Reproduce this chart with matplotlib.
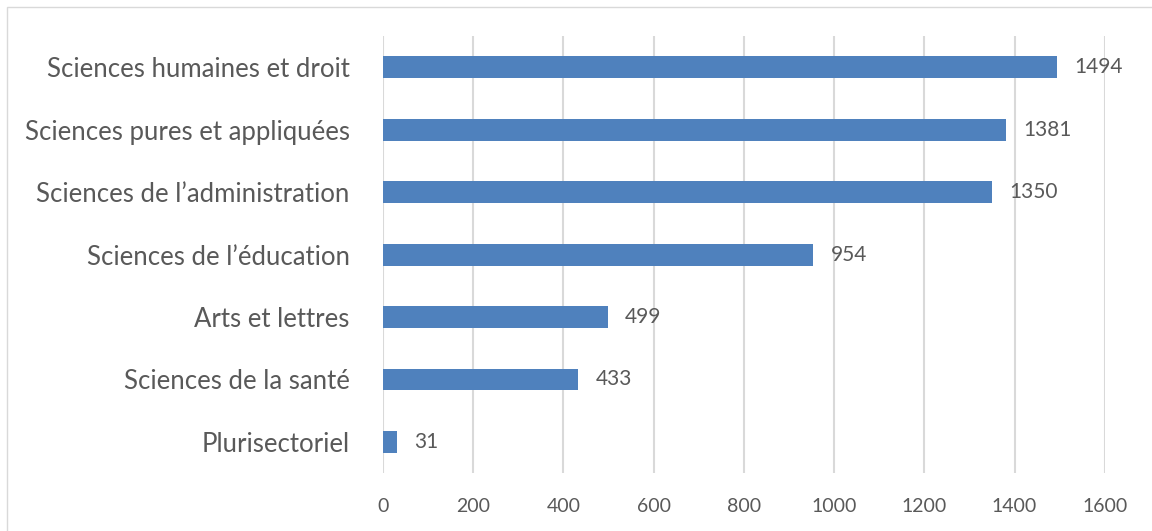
import matplotlib.pyplot as plt
from matplotlib.patches import Rectangle

categories = [
    "Plurisectoriel",
    "Sciences de la santé",
    "Arts et lettres",
    "Sciences de l’éducation",
    "Sciences de l’administration",
    "Sciences pures et appliquées",
    "Sciences humaines et droit",
]
values = [31, 433, 499, 954, 1350, 1381, 1494]
xticks = [0, 200, 400, 600, 800, 1000, 1200, 1400, 1600]

BAR_COLOR = "#4F81BD"
TEXT_COLOR = "#595959"
GRID_COLOR = "#D9D9D9"

plt.rcParams["font.family"] = ["Lato", "DejaVu Sans"]


def main():
    fig = plt.figure(figsize=(11.52, 5.31), dpi=100)
    ax = fig.add_axes([0.3325, 0.109, 0.6265, 0.823])

    # light border around the chart area (only left/top visible in the crop)
    fig.patches.append(Rectangle((7 / 1152, -0.1), 1.2, (531 - 7) / 531 + 0.1,
                                 transform=fig.transFigure, fill=False,
                                 edgecolor="#D9D9D9", linewidth=1.0))

    y = range(len(categories))
    ax.barh(y, values, height=0.35, color=BAR_COLOR, zorder=3)

    for yi, v in zip(y, values):
        ax.text(v + 38, yi, str(v), va="center", ha="left",
                fontsize=15, color=TEXT_COLOR)

    ax.set_xlim(0, 1600)
    ax.set_ylim(-0.5, len(categories) - 0.5)
    ax.set_xticks(xticks)
    ax.set_xticklabels([str(t) for t in xticks])
    ax.set_yticks(list(y))
    ax.set_yticklabels(categories)

    ax.grid(axis="x", color=GRID_COLOR, linewidth=1.5, zorder=0)
    for s in ax.spines.values():
        s.set_visible(False)
    ax.tick_params(axis="both", length=0, colors=TEXT_COLOR)
    ax.tick_params(axis="x", labelsize=14, pad=18)
    ax.tick_params(axis="y", labelsize=18.5, pad=24)

    fig.savefig("out.png", dpi=100)
    plt.close(fig)


if __name__ == "__main__":
    main()
